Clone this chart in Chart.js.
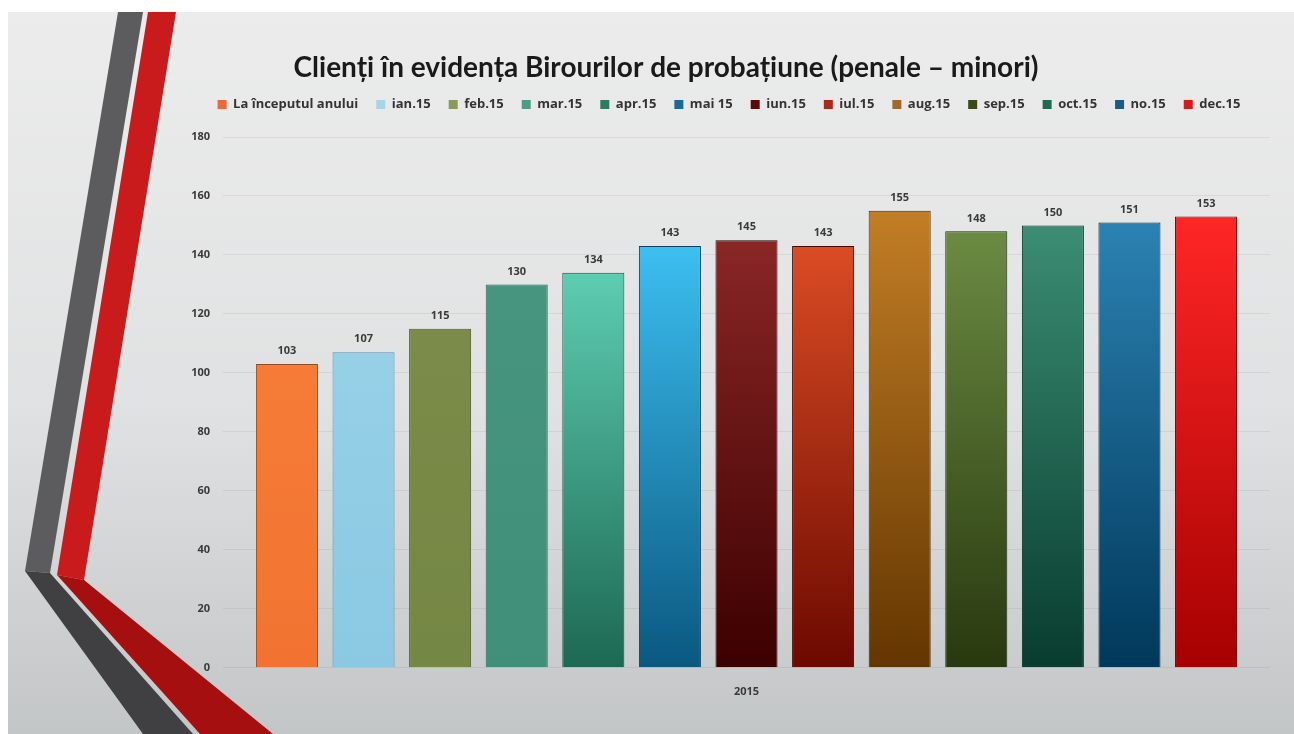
<!DOCTYPE html>
<html>
<head>
<meta charset="utf-8">
<script src="https://cdn.jsdelivr.net/npm/chart.js@4.4.1/dist/chart.umd.min.js"></script>
<style>
  html, body { margin: 0; padding: 0; background: #fff; }
  #wrap { width: 1294px; height: 734px; position: relative; }
</style>
</head>
<body>
<div id="wrap"><canvas id="chart" width="1294" height="734"></canvas></div>
<script>
const titleText = "Clienți în evidența Birourilor de probațiune (penale – minori)";
const categories = ["2015"];
const seriesNames = [
    "La începutul anului", "ian.15", "feb.15", "mar.15", "apr.15", "mai 15",
    "iun.15", "iul.15", "aug.15", "sep.15", "oct.15", "no.15", "dec.15"
];
const seriesValues = [103, 107, 115, 130, 134, 143, 145, 143, 155, 148, 150, 151, 153];

// bar gradient top / bottom, border and legend swatch
const topColors = ["#f57c37", "#95d0e7", "#7b8b49", "#47957f", "#5dcdb1", "#3cbff0",
    "#8a2626", "#da4c24", "#c27e26", "#6b8b42", "#3b8d73", "#2b82b2", "#ff2626"];
const bottomColors = ["#f27331", "#8bc9e2", "#758744", "#3f8f79", "#1d6853", "#0a5880",
    "#3c0000", "#6c0900", "#633600", "#28380f", "#083c2e", "#00385a", "#a60000"];
const borderColors = ["#9a4a20", "#5f8fae", "#4b5a2b", "#2b6656", "#17503f", "#083f5c",
    "#2a0000", "#4a0600", "#4a2800", "#1e2a0a", "#052c22", "#002a44", "#700000"];
const legendColors = ["#e8693a", "#a9d4e4", "#8a9a5a", "#4f9b86", "#2e7a62", "#1c6a96",
    "#5a0a0a", "#a82a1a", "#a06a2a", "#3a4a1a", "#1e6a52", "#1e5a82", "#d81a1a"];

function barGradient(i) {
    return function (context) {
        const chart = context.chart;
        const area = chart.chartArea;
        if (!area) return topColors[i];
        const y = chart.scales.y;
        const top = y.getPixelForValue(seriesValues[i]);
        const bottom = y.getPixelForValue(0);
        const g = chart.ctx.createLinearGradient(0, top, 0, bottom);
        g.addColorStop(0, topColors[i]);
        g.addColorStop(1, bottomColors[i]);
        return g;
    };
}

const datasets = seriesNames.map((name, i) => ({
    label: name,
    data: [seriesValues[i]],
    backgroundColor: barGradient(i),
    borderColor: borderColors[i],
    borderWidth: 1,
    categoryPercentage: 0.951,
    barPercentage: 0.81
}));

// slide background and the decorative stripes on the left
const slideBackground = {
    id: "slideBackground",
    beforeDraw(chart) {
        const ctx = chart.ctx;
        ctx.save();
        ctx.fillStyle = "#ffffff";
        ctx.fillRect(0, 0, chart.width, chart.height);
        const g = ctx.createLinearGradient(0, 12, 0, chart.height);
        g.addColorStop(0, "#ececec");
        g.addColorStop(0.55, "#e0e1e2");
        g.addColorStop(1, "#c3c6c7");
        ctx.fillStyle = g;
        ctx.fillRect(8, 12, chart.width - 8, chart.height - 12);

        function poly(pts, color) {
            ctx.beginPath();
            ctx.moveTo(pts[0][0], pts[0][1]);
            for (let k = 1; k < pts.length; k++) ctx.lineTo(pts[k][0], pts[k][1]);
            ctx.closePath();
            ctx.fillStyle = color;
            ctx.fill();
        }
        poly([[118, 12], [143, 12], [50, 573], [25, 571]], "#5c5c5e");
        poly([[25, 571], [50, 573], [193, 734], [143, 734]], "#404042");
        poly([[148, 12], [176, 12], [84, 580], [57, 575]], "#c91b1b");
        poly([[57, 575], [84, 580], [273, 734], [200, 734]], "#a50f10");
        ctx.restore();
    }
};

// extra room under the legend, and nudge it right like the slide
const legendSpacing = {
    id: "legendSpacing",
    beforeInit(chart) {
        const legend = chart.legend;
        if (!legend) return;
        const fit = legend.fit;
        legend.fit = function () {
            fit.call(this);
            this.height += 16;
        };
    },
    afterLayout(chart) {
        chart.legend.left += 14;
        chart.legend.right += 14;
    }
};

const titleDraw = {
    id: "titleDraw",
    afterDraw(chart) {
        const ctx = chart.ctx;
        ctx.save();
        ctx.font = "bold 28px Lato";
        ctx.fillStyle = "#1a1a1a";
        ctx.textAlign = "center";
        ctx.textBaseline = "middle";
        ctx.fillText(titleText, 666, 68);
        ctx.restore();
    }
};

const valueLabels = {
    id: "valueLabels",
    afterDatasetsDraw(chart) {
        const ctx = chart.ctx;
        ctx.save();
        ctx.font = "bold 11px 'Open Sans'";
        ctx.fillStyle = "#3a3a3a";
        ctx.textAlign = "center";
        ctx.textBaseline = "middle";
        chart.data.datasets.forEach((ds, i) => {
            const meta = chart.getDatasetMeta(i);
            meta.data.forEach((bar, j) => {
                ctx.fillText(ds.data[j], bar.x, bar.y - 13);
            });
        });
        ctx.restore();
    }
};

new Chart(document.getElementById("chart"), {
    type: "bar",
    data: { labels: categories, datasets: datasets },
    options: {
        responsive: false,
        animation: false,
        layout: { padding: { top: 80, left: 160, right: 24, bottom: 27 } },
        plugins: {
            title: { display: false },
            tooltip: { enabled: false },
            legend: {
                position: "top",
                labels: {
                    boxWidth: 9,
                    boxHeight: 9,
                    padding: 18,
                    color: "#333333",
                    font: { family: "Open Sans", size: 13, weight: "bold" },
                    generateLabels: chart => chart.data.datasets.map((ds, i) => ({
                        text: ds.label,
                        fillStyle: legendColors[i],
                        strokeStyle: legendColors[i],
                        lineWidth: 0,
                        hidden: false,
                        datasetIndex: i,
                        fontColor: "#333333"
                    }))
                }
            }
        },
        scales: {
            x: {
                grid: { display: false },
                border: { display: false },
                ticks: { color: "#3a3a3a", padding: 9, font: { family: "Open Sans", size: 11, weight: "bold" } }
            },
            y: {
                min: 0,
                max: 180,
                ticks: { stepSize: 20, color: "#3a3a3a", padding: 13, font: { family: "Open Sans", size: 11, weight: "bold" } },
                grid: { color: "rgba(0,0,0,0.06)", drawTicks: false },
                border: { display: false },
                afterFit(scale) { scale.width = 63; }
            }
        }
    },
    plugins: [slideBackground, legendSpacing, titleDraw, valueLabels]
});
</script>
</body>
</html>
